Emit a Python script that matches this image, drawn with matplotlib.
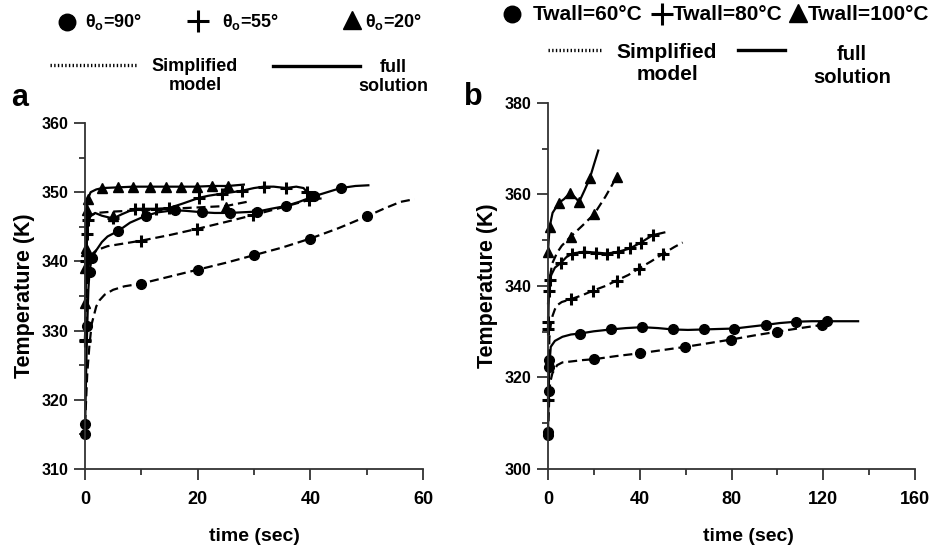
import matplotlib
matplotlib.use('Agg')
import matplotlib.pyplot as plt
from matplotlib.lines import Line2D
from matplotlib.ticker import MultipleLocator

plt.rcParams['font.family'] = ['Liberation Sans', 'DejaVu Sans']
plt.rcParams['font.weight'] = 'bold'
plt.rcParams['mathtext.fontset'] = 'custom'
plt.rcParams['mathtext.rm'] = 'Liberation Sans:bold'
plt.rcParams['lines.scale_dashes'] = False

# ---- panel a : contact angle (full solution = solid, simplified model = dashed)
a90_full_t = [0, 0.2, 0.4, 0.6, 0.8, 1.2, 2, 3, 4, 5.9, 8, 10.8, 13, 15.9, 18, 20.8,
              23, 25.7, 28, 30.6, 33, 35.6, 38, 40.6, 43, 45.4, 48, 50.3]
a90_full_T = [315, 324, 330.7, 336, 338.5, 340.5, 341.6, 342.8, 343.6, 344.4, 345.6, 346.6,
              347.1, 347.4, 347.3, 347.1, 347.0, 347.0, 347.1, 347.2, 347.6, 348.0, 348.6,
              349.4, 350.0, 350.6, 350.9, 351.0]
a90_full_mt = [0, 0.4, 0.8, 1.2, 5.9, 10.8, 15.9, 20.8, 25.7, 30.6, 35.6, 40.6, 45.4]
a90_full_mT = [315, 330.7, 338.5, 340.5, 344.4, 346.6, 347.4, 347.1, 347.0, 347.2, 348.0, 349.4, 350.6]

a90_simp_t = [0, 0.2, 0.4, 0.8, 1.2, 2, 2.6, 3.5, 5, 7, 10, 15, 20, 25, 30, 35, 40, 45,
              50, 53, 56, 58.5]
a90_simp_T = [316.5, 320, 323.8, 328, 331, 333.5, 334.4, 335.2, 335.9, 336.4, 336.8, 337.8,
              338.8, 339.8, 340.9, 342.0, 343.3, 344.8, 346.5, 347.6, 348.6, 349.0]
a90_simp_mt = [0, 10, 20, 30, 40, 50]
a90_simp_mT = [316.5, 336.8, 338.8, 340.9, 343.3, 346.5]

a55_full_t = [0, 0.2, 0.4, 0.6, 1, 1.8, 3, 5, 6.5, 8.8, 10.3, 12.6, 14.9, 17.5, 20.3, 22,
              24.4, 27.8, 30, 31.7, 33.5, 35.7, 37.5, 38.8, 39.6, 40.6]
a55_full_T = [328.5, 340, 344, 346, 346.6, 347, 346.6, 346.2, 346.8, 347.6, 347.6, 347.6,
              347.7, 348.4, 349.2, 349.5, 349.8, 350.2, 350.6, 350.8, 350.8, 350.6, 350.8,
              350.6, 349.8, 349.1]
a55_full_mt = [0, 0.2, 0.4, 0.6, 5, 8.8, 10.3, 12.6, 14.9, 20.3, 24.4, 27.8, 31.7, 35.7, 39.4]
a55_full_mT = [328.5, 340, 344, 346, 346.2, 347.6, 347.6, 347.6, 347.7, 349.2, 349.8, 350.2,
               350.8, 350.6, 350.1]

a55_simp_t = [0, 0.2, 0.5, 0.9, 2, 4, 7, 10, 15, 19.9, 25, 29.9, 35, 39.8, 42]
a55_simp_T = [328.7, 334, 338.5, 340.8, 341.6, 342.2, 342.6, 343.0, 343.8, 344.7, 345.7,
              346.7, 347.8, 348.9, 349.1]
a55_simp_mt = [0, 10, 19.9, 29.9, 39.8]
a55_simp_mT = [328.7, 343.0, 344.7, 346.7, 348.9]

a20_full_t = [0, 0.1, 0.3, 0.5, 1, 2, 3.1, 5.9, 8.6, 11.5, 14.3, 17, 19.8, 22.6, 25.4, 28.2]
a20_full_T = [339, 342, 347.5, 349, 350, 350.4, 350.6, 350.7, 350.8, 350.8, 350.8, 350.8,
              350.8, 350.9, 350.9, 351.1]
a20_full_mt = [0, 0.1, 0.3, 0.5, 3.1, 5.9, 8.6, 11.5, 14.3, 17, 19.8, 22.6, 25.4]
a20_full_mT = [339, 342, 347.5, 349, 350.6, 350.7, 350.8, 350.8, 350.8, 350.8, 350.8, 350.9,
               350.9]

a20_simp_t = [0, 0.2, 0.5, 1, 2, 5, 10, 15, 20, 25, 28.7]
a20_simp_T = [334, 341.5, 345.5, 346.6, 347.0, 347.2, 347.4, 347.6, 347.8, 348.0, 348.6]
a20_simp_mt = [0, 0.2, 5, 25]
a20_simp_mT = [334, 341.5, 346.5, 347.9]

# ---- panel b : wall temperature
b60_full_t = [0, 0.3, 0.6, 1.2, 3, 6.3, 10, 13.8, 20, 27.4, 34, 41, 48, 54.4, 61, 67.8, 74,
              81.3, 88, 94.9, 101, 108.3, 115, 121.8, 128, 135.2]
b60_full_T = [308, 317, 322.7, 326.7, 328, 328.9, 329.4, 329.6, 330.1, 330.5, 330.8, 331.0,
              330.8, 330.5, 330.4, 330.5, 330.6, 330.7, 331.1, 331.5, 331.9, 332.2, 332.3,
              332.3, 332.3, 332.3]
b60_full_mt = [0, 0.3, 0.6, 13.8, 27.4, 41, 54.4, 67.8, 81.3, 94.9, 108.3, 121.8]
b60_full_mT = [308, 317, 323.8, 329.6, 330.5, 331.0, 330.5, 330.5, 330.7, 331.5, 332.2, 332.3]

b60_simp_t = [0, 0.3, 0.6, 1, 1.9, 4, 6.3, 10, 15, 20.1, 30, 40.1, 50, 59.9, 70, 79.9, 90,
              99.8, 110, 119.6, 123]
b60_simp_T = [307.4, 312, 316.9, 319, 320.9, 322.7, 323.3, 323.5, 323.8, 324.0, 324.7, 325.3,
              326.0, 326.7, 327.5, 328.3, 329.2, 330.0, 330.8, 331.5, 331.8]
b60_simp_mt = [0, 0.6, 20.1, 40.1, 59.9, 79.9, 99.8, 119.6]
b60_simp_mT = [307.4, 322.4, 324.0, 325.3, 326.7, 328.3, 330.0, 331.5]

b80_full_t = [0, 0.15, 0.35, 0.7, 1.5, 3, 5.5, 8, 10.6, 15.7, 20.8, 25.9, 30.7, 35.7, 40.5,
              45.6, 50.7]
b80_full_T = [330.7, 332.2, 338.8, 341.3, 342.5, 344.0, 345.0, 346.3, 347.1, 347.5, 347.3,
              347.1, 347.5, 348.2, 349.5, 351.1, 351.7]
b80_full_mt = [0, 0.15, 0.35, 0.7, 5.5, 10.6, 15.7, 20.8, 25.9, 30.7, 35.7, 40.5, 45.6]
b80_full_mT = [330.7, 332.2, 338.8, 341.3, 345.0, 347.1, 347.5, 347.3, 347.1, 347.5, 348.2,
               349.5, 351.1]

b80_simp_t = [0, 0.3, 0.6, 1.2, 2, 3, 4, 6, 9.9, 15, 19.7, 25, 29.9, 35, 39.5, 45, 50, 55,
              58.7]
b80_simp_T = [315.1, 322, 328.6, 331.5, 333.5, 334.9, 335.8, 336.5, 337.1, 338.0, 339.0,
              340.0, 341.2, 342.4, 343.8, 345.4, 347.0, 348.5, 349.5]
b80_simp_mt = [0, 9.9, 19.7, 29.9, 39.5, 50]
b80_simp_mT = [315.1, 337.1, 339.0, 341.2, 343.8, 347.0]

b100_full_t = [0, 0.3, 0.7, 2, 4.8, 7, 9.5, 11.5, 13.6, 16, 18.2, 20, 21.9]
b100_full_T = [347.5, 350, 352.9, 356, 358.2, 359, 360.3, 359.5, 358.4, 361, 363.5, 366.5,
               369.6]
b100_full_mt = [0, 0.7, 4.8, 9.5, 13.6, 18.2]
b100_full_mT = [347.5, 352.9, 358.2, 360.3, 358.4, 363.5]

b100_simp_t = [0, 0.5, 1.9, 4, 6, 9.9, 15, 20.1, 25, 29.9]
b100_simp_T = [336, 341, 345, 347.3, 348.8, 350.8, 353.2, 355.7, 359.5, 363.8]
b100_simp_mt = [9.9, 20.1, 29.9]
b100_simp_mT = [350.8, 355.7, 363.8]

W, H = 930, 553
fig = plt.figure(figsize=(W / 100, H / 100), dpi=100)


def fx(px):
    return px / W


def fy(py):
    return 1 - py / H


ax_a = fig.add_axes([fx(85), fy(469), (423 - 85) / W, (469 - 123) / H])
ax_b = fig.add_axes([fx(548), fy(469), (915 - 548) / W, (469 - 103) / H])

MARK = {'o': dict(marker='o', ms=7),
        '+': dict(marker='+', ms=9, mew=2.2),
        '^': dict(marker='^', ms=7.5)}


def series(ax, t, T, mt, mT, m, dashed):
    ls = dict(dashes=(6.5, 3.5)) if dashed else dict(ls='-')
    ax.plot(t, T, color='black', lw=1.6, clip_on=False, **ls)
    ax.plot(mt, mT, ls='none', color='black', clip_on=False, **MARK[m])


series(ax_a, a90_simp_t, a90_simp_T, a90_simp_mt, a90_simp_mT, 'o', True)
series(ax_a, a55_simp_t, a55_simp_T, a55_simp_mt, a55_simp_mT, '+', True)
series(ax_a, a20_simp_t, a20_simp_T, a20_simp_mt, a20_simp_mT, '^', True)
series(ax_a, a90_full_t, a90_full_T, a90_full_mt, a90_full_mT, 'o', False)
series(ax_a, a55_full_t, a55_full_T, a55_full_mt, a55_full_mT, '+', False)
series(ax_a, a20_full_t, a20_full_T, a20_full_mt, a20_full_mT, '^', False)

series(ax_b, b60_simp_t, b60_simp_T, b60_simp_mt, b60_simp_mT, 'o', True)
series(ax_b, b80_simp_t, b80_simp_T, b80_simp_mt, b80_simp_mT, '+', True)
series(ax_b, b100_simp_t, b100_simp_T, b100_simp_mt, b100_simp_mT, '^', True)
series(ax_b, b60_full_t, b60_full_T, b60_full_mt, b60_full_mT, 'o', False)
series(ax_b, b80_full_t, b80_full_T, b80_full_mt, b80_full_mT, '+', False)
series(ax_b, b100_full_t, b100_full_T, b100_full_mt, b100_full_mT, '^', False)


def style(ax, xmax, xmaj, ylo, yhi, ymaj):
    ax.set_xlim(0, xmax)
    ax.set_ylim(ylo, yhi)
    ax.set_facecolor('none')
    for s in ('top', 'right'):
        ax.spines[s].set_visible(False)
    for s in ('left', 'bottom'):
        ax.spines[s].set_color('#333333')
        ax.spines[s].set_linewidth(1.3)
    ax.xaxis.set_major_locator(MultipleLocator(xmaj))
    ax.xaxis.set_minor_locator(MultipleLocator(xmaj / 2))
    ax.yaxis.set_major_locator(MultipleLocator(ymaj))
    ax.yaxis.set_minor_locator(MultipleLocator(ymaj / 2))
    ax.tick_params(which='major', length=8, width=1.3, color='#333333', direction='out')
    ax.tick_params(which='minor', length=4, width=1.3, color='#333333', direction='out')
    ax.tick_params(axis='y', labelsize=11.5, pad=4)
    ax.tick_params(axis='x', labelsize=13, pad=8)
    ax.set_ylabel('Temperature (K)', fontsize=15.5, fontweight='bold', labelpad=5)


style(ax_a, 60, 20, 310, 360, 10)
style(ax_b, 160, 40, 300, 380, 20)
ax_a.set_xlabel('time (sec)', fontsize=14, fontweight='bold', labelpad=14)
ax_b.set_xlabel('time (sec)', fontsize=14, fontweight='bold', labelpad=14, x=0.545)


def legend_mark(px, py, m):
    fig.add_artist(Line2D([fx(px)], [fy(py)], color='black', transform=fig.transFigure,
                          **{**MARK[m], 'ms': MARK[m]['ms'] * 1.7}))


def legend_line(x0, x1, py, ls):
    fig.add_artist(Line2D([fx(x0), fx(x1)], [fy(py), fy(py)], color='black', lw=2.4,
                          ls=ls, transform=fig.transFigure))


# legend panel a
legend_mark(67, 22, 'o')
fig.text(fx(85), fy(22), 'θ$_\\mathrm{o}$=90°', fontsize=13, va='center')
legend_mark(198, 21, '+')
fig.text(fx(222), fy(22), 'θ$_\\mathrm{o}$=55°', fontsize=13, va='center')
legend_mark(352, 20, '^')
fig.text(fx(365), fy(22), 'θ$_\\mathrm{o}$=20°', fontsize=13, va='center')
legend_line(50, 137, 65, ':')
fig.text(fx(195), fy(76), 'Simplified\nmodel', fontsize=13, ha='center', va='center',
         linespacing=1.2)
legend_line(273, 360, 66, '-')
fig.text(fx(393), fy(77), 'full\nsolution', fontsize=13, ha='center', va='center',
         linespacing=1.2)

# legend panel b
legend_mark(512, 14, 'o')
fig.text(fx(533), fy(15), 'Twall=60°C', fontsize=15, va='center')
legend_mark(662, 14, '+')
fig.text(fx(673), fy(15), 'Twall=80°C', fontsize=15, va='center')
legend_mark(798, 13, '^')
fig.text(fx(808), fy(15), 'Twall=100°C', fontsize=15, va='center')
legend_line(548, 602, 50, ':')
fig.text(fx(667), fy(64), 'Simplified\nmodel', fontsize=15, ha='center', va='center',
         linespacing=1.2)
legend_line(738, 785, 50, '-')
fig.text(fx(852), fy(66), 'full\nsolution', fontsize=14.5, ha='center', va='center',
         linespacing=1.3)

fig.text(fx(11), fy(98), 'a', fontsize=22, va='center')
fig.text(fx(464), fy(97), 'b', fontsize=22, va='center')

fig.savefig('out.png', dpi=100, facecolor='white')
